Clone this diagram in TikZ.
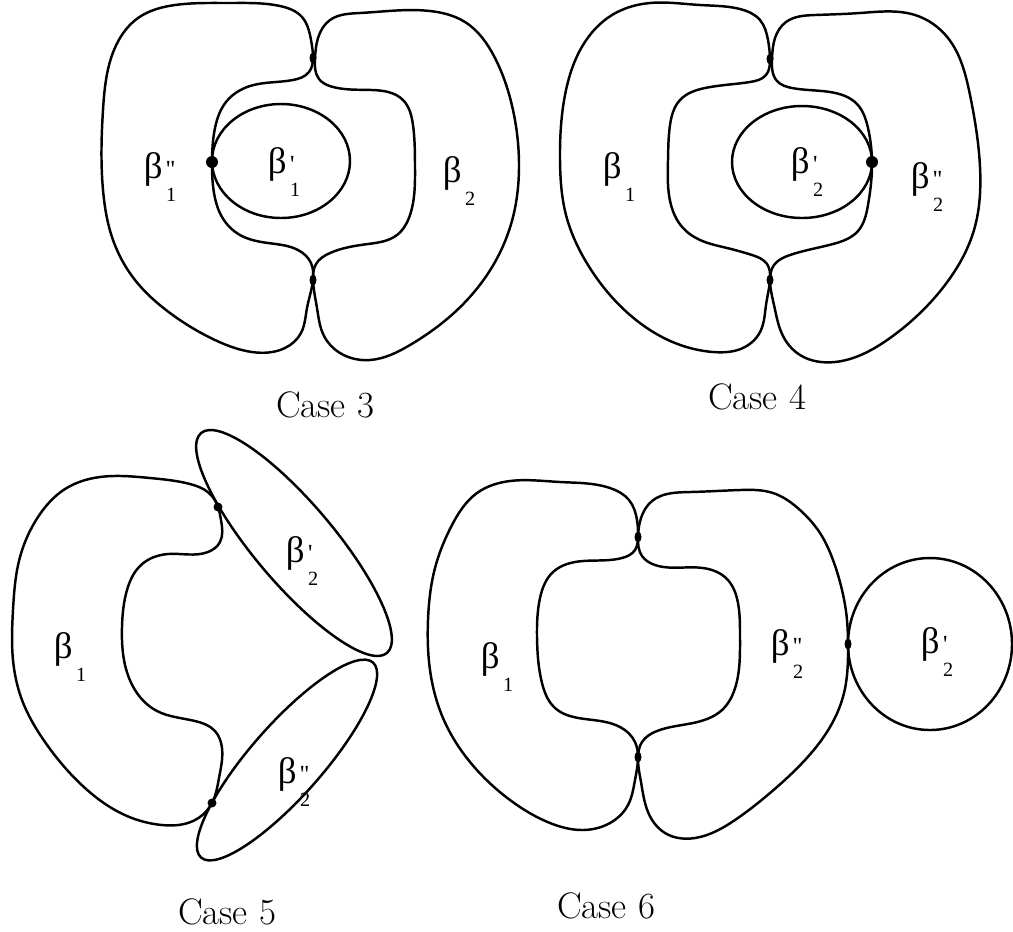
\documentclass[tikz,border=0pt]{standalone}
\usepackage{amsmath}
\usepackage{fontspec}
\usetikzlibrary{calc,hobby}
\newfontfamily\grk{Liberation Serif}
% beta with a lowered index and straight primes
\newcommand{\betalab}[2]{{\grk β}\kern2pt\rlap{\raisebox{0.5pt}{\fontsize{14}{14}\selectfont\grk #2}}\raisebox{-13pt}{\fontsize{11.5}{12}\selectfont\grk #1}}

\tikzset{
  curve/.style={line width=1.4pt, line join=round, use Hobby shortcut, closed=true},
  oval/.style={line width=1.4pt},
  tangpt/.style={fill=black},
  lbl/.style={inner sep=0pt, font=\fontsize{21}{25}\selectfont},
  caption/.style={inner sep=0pt, font=\fontsize{21}{25}\selectfont}
}

\begin{document}
\begin{tikzpicture}[x=0.02cm,y=-0.02cm]
  \useasboundingbox (0,0) rectangle (1013,931);

  % Case 3
  \draw[curve] (313,58) .. (311,40) .. (302,17) .. (280,6) .. (230,3) .. (175,5) .. (138,18)
    .. (114,50) .. (103,110) .. (103,190) .. (113,240) .. (135,280) .. (170,313) .. (215,340)
    .. (252,352) .. (285,348) .. (301,333) .. (307,308) .. (313,280) .. (311,263) .. (298,250)
    .. (268,243) .. (240,235) .. (222,217) .. (214,193) .. (212,162) .. (215,128) .. (226,102)
    .. (250,86) .. (293,80) .. (309,72);
  \draw[curve] (315,58) .. (318,38) .. (330,20) .. (360,13) .. (430,11) .. (465,22) .. (495,58)
    .. (513,110) .. (519,167) .. (513,217) .. (495,262) .. (455,312) .. (410,345) .. (370,360)
    .. (340,353) .. (324,336) .. (317,308) .. (313,280) .. (316,264) .. (330,253) .. (368,244)
    .. (397,235) .. (410,215) .. (415,167) .. (413,125) .. (403,100) .. (372,90) .. (333,87)
    .. (319,79);
  \draw[oval] (281,161) ellipse (69 and 57);
  \fill[tangpt] (313,58) ellipse (3.5 and 5.5);
  \fill[tangpt] (313,280) ellipse (3.5 and 5.5);
  \fill[tangpt] (212,162) circle (6);
  \node[lbl] (c3a) at (160,177) {\betalab{1}{\textquotesingle\textquotesingle}};
  \node[lbl] (c3b) at (284,172) {\betalab{1}{\textquotesingle}};
  \node[lbl] (c3c) at (459,181) {\betalab{2}{}};
  \node[caption] (c3) at (325,405) {Case 3};

  % Case 4
  \draw[curve] (770,59) .. (768,40) .. (760,20) .. (740,9) .. (700,5) .. (650,3) .. (612,15)
    .. (583,45) .. (565,95) .. (560,160) .. (566,215) .. (588,265) .. (630,315) .. (675,343)
    .. (713,352) .. (745,347) .. (761,330) .. (766,305) .. (770,280) .. (767,264) .. (752,255)
    .. (727,248) .. (700,240) .. (683,228) .. (671,205) .. (668,160) .. (670,125) .. (680,100)
    .. (705,88) .. (750,82) .. (766,75);
  \draw[curve] (772,59) .. (775,38) .. (786,22) .. (815,15) .. (860,13) .. (915,15) .. (948,38)
    .. (970,95) .. (980,167) .. (974,230) .. (945,285) .. (890,338) .. (835,362) .. (800,355)
    .. (783,336) .. (774,305) .. (770,280) .. (774,265) .. (790,255) .. (833,244) .. (858,231)
    .. (868,205) .. (872,162) .. (868,128) .. (857,104) .. (830,92) .. (792,88) .. (777,81);
  \draw[oval] (802,162) ellipse (70 and 56);
  \fill[tangpt] (770,59) ellipse (3.5 and 5.5);
  \fill[tangpt] (770,280) ellipse (3.5 and 5.5);
  \fill[tangpt] (872,162) circle (6);
  \node[lbl] (c4a) at (619,177) {\betalab{1}{}};
  \node[lbl] (c4b) at (807,172) {\betalab{2}{\textquotesingle}};
  \node[lbl] (c4c) at (927,187) {\betalab{2}{\textquotesingle\textquotesingle}};
  \node[caption] (c4) at (757,397) {Case 4};

  % Case 5
  \draw[curve] (218,507) .. (209,493) .. (190,484) .. (150,478) .. (100,477) .. (65,489)
    .. (38,517) .. (20,557) .. (13,610) .. (13,660) .. (22,700) .. (45,742) .. (85,788)
    .. (127,816) .. (162,825) .. (193,821) .. (212,803) .. (219,778) .. (222,748) .. (215,731)
    .. (195,721) .. (157,711) .. (135,690) .. (124,660) .. (122,627) .. (127,590) .. (141,565)
    .. (168,554) .. (208,552) .. (220,542) .. (221,520);
  \draw[oval, rotate around={-49.8:(294,543)}] (294,543) ellipse (144 and 40);
  \draw[oval, rotate around={48.6:(287,760)}] (287,760) ellipse (130 and 36);
  \fill[tangpt] (218,507) circle (4.5);
  \fill[tangpt] (212,803) circle (4.5);
  \node[lbl] (c5a) at (70,657) {\betalab{1}{}};
  \node[lbl] (c5b) at (302,561) {\betalab{2}{\textquotesingle}};
  \node[lbl] (c5c) at (294,782) {\betalab{2}{\textquotesingle\textquotesingle}};
  \node[caption] (c5) at (227,912) {Case 5};

  % Case 6
  \draw[curve] (638,537) .. (637,520) .. (629,500) .. (610,488) .. (560,482) .. (510,481)
    .. (477,493) .. (452,525) .. (435,568) .. (428,620) .. (430,670) .. (443,718) .. (470,762)
    .. (510,800) .. (550,823) .. (582,830) .. (610,823) .. (628,805) .. (635,780) .. (638,757)
    .. (635,742) .. (620,727) .. (585,719) .. (555,708) .. (542,683) .. (537,637) .. (540,598)
    .. (553,572) .. (583,561) .. (622,558) .. (635,550);
  \draw[curve] (638,537) .. (641,518) .. (652,501) .. (690,492) .. (740,490) .. (773,493)
    .. (800,510) .. (820,533) .. (833,560) .. (842,590) .. (847,620) .. (848,644) .. (844,693)
    .. (830,727) .. (805,760) .. (770,793) .. (735,820) .. (695,838) .. (665,833) .. (648,812)
    .. (641,782) .. (638,757) .. (642,742) .. (657,731) .. (693,723) .. (722,710) .. (736,685)
    .. (740,637) .. (738,603) .. (727,579) .. (703,568) .. (655,565) .. (642,556);
  \draw[oval] (930,644) ellipse (82 and 86);
  \fill[tangpt] (638,537) ellipse (3.5 and 5.5);
  \fill[tangpt] (638,757) ellipse (3.5 and 5.5);
  \fill[tangpt] (848,644) ellipse (3.5 and 5.5);
  \node[lbl] (c6a) at (497,667) {\betalab{1}{}};
  \node[lbl] (c6b) at (787,654) {\betalab{2}{\textquotesingle\textquotesingle}};
  \node[lbl] (c6c) at (937,652) {\betalab{2}{\textquotesingle}};
  \node[caption] (c6) at (606,906) {Case 6};
\end{tikzpicture}
\end{document}
